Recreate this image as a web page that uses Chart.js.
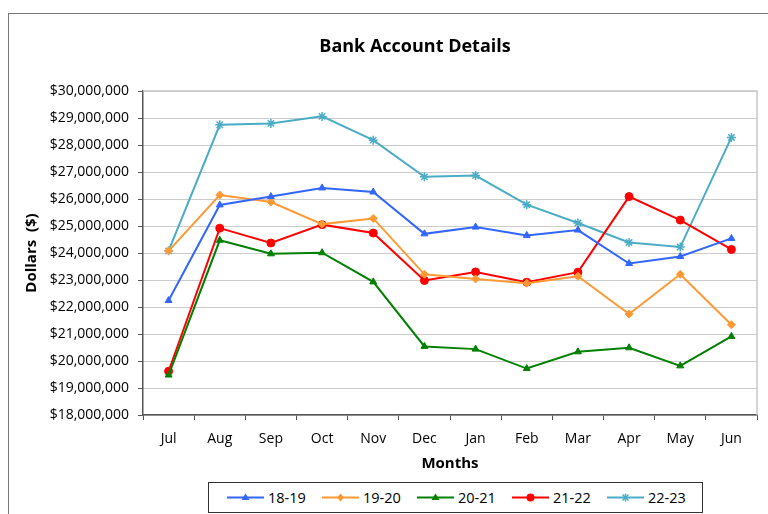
<!DOCTYPE html>
<html>
<head>
<meta charset="utf-8">
<script src="https://cdn.jsdelivr.net/npm/chart.js@4/dist/chart.umd.min.js"></script>
<style>
  html, body { margin: 0; padding: 0; background: #fff; overflow: hidden; }
  #wrap { position: relative; width: 768px; height: 514px; font-family: "Open Sans", "Noto Sans", sans-serif; }
  #frame { position: absolute; left: 8px; top: 13px; width: 800px; height: 600px; border-left: 1.5px solid #777; border-top: 1.5px solid #777; box-sizing: border-box; }
  #c { position: absolute; left: 0; top: 0; }
  #title { position: absolute; left: 215px; width: 400px; top: 32px; text-align: center; font-weight: 700; font-size: 18px; color: #000; line-height: 26px; }
  #legend { position: absolute; left: 208px; top: 482px; width: 495px; height: 31px; border: 1px solid #333; box-sizing: border-box; background: #fff; display: flex; align-items: center; padding-left: 18px; }
  .item { width: 96.3px; display: flex; align-items: center; font-size: 14.5px; color: #000; }
  .item svg { margin-right: 4px; }
</style>
</head>
<body>
<div id="wrap">
  <div id="frame"></div>
  <canvas id="c" width="768" height="514"></canvas>
  <div id="title">Bank Account Details</div>
  <div id="legend"></div>
</div>
<script>
const months = ["Jul","Aug","Sep","Oct","Nov","Dec","Jan","Feb","Mar","Apr","May","Jun"];
const seriesNames = ["18-19","19-20","20-21","21-22","22-23"];
const fy1819 = [22240000,25780000,26090000,26410000,26260000,24710000,24960000,24650000,24850000,23610000,23870000,24540000];
const fy1920 = [24080000,26150000,25890000,25070000,25280000,23210000,23040000,22880000,23140000,21740000,23210000,21340000];
const fy2021 = [19480000,24470000,23970000,24010000,22930000,20540000,20440000,19720000,20340000,20490000,19820000,20910000];
const fy2122 = [19620000,24920000,24370000,25050000,24740000,22980000,23300000,22920000,23290000,26090000,25220000,24130000];
const fy2223 = [24080000,28750000,28800000,29060000,28180000,26820000,26870000,25790000,25110000,24390000,24220000,28280000];
const yMin = 18000000, yMax = 30000000, yStep = 1000000;

const seriesValues = [fy1819, fy1920, fy2021, fy2122, fy2223];
const colors = ["#3366FF","#FF9933","#008000","#FF0000","#4BACC6"];
const markers = ["triangle","rectRot","triangle","circle","star"];
const radii = [4, 4, 4, 4, 4.5];

const font = "'Open Sans', 'Noto Sans', sans-serif";

const plotBorder = {
  id: 'plotBorder',
  beforeDatasetsDraw(chart) {
    const {ctx, chartArea: a} = chart;
    ctx.save();
    ctx.strokeStyle = '#c8c8c8';
    ctx.lineWidth = 1.5;
    ctx.beginPath();
    ctx.moveTo(a.left, a.top);
    ctx.lineTo(a.right, a.top);
    ctx.lineTo(a.right, a.bottom);
    ctx.stroke();
    ctx.restore();
  }
};

new Chart(document.getElementById('c'), {
  type: 'line',
  data: {
    labels: months,
    datasets: seriesValues.map((vals, i) => ({
      label: seriesNames[i],
      data: vals,
      borderColor: colors[i],
      backgroundColor: colors[i],
      pointBackgroundColor: colors[i],
      pointBorderColor: colors[i],
      borderWidth: 2,
      pointStyle: markers[i],
      pointRadius: radii[i],
      pointBorderWidth: markers[i] === 'star' ? 1.5 : 1,
      tension: 0,
      fill: false
    }))
  },
  options: {
    responsive: false,
    animation: false,
    layout: { padding: { top: 91, left: 8, right: 11, bottom: 34 } },
    plugins: {
      legend: { display: false },
      title: { display: false },
      tooltip: { enabled: false }
    },
    scales: {
      x: {
        offset: true,
        afterFit(s) { s.height = 65; },
        grid: { display: true, drawOnChartArea: false, drawTicks: true, tickLength: 5, offset: true, tickColor: '#555', color: '#555' },
        border: { display: true, color: '#555', width: 1.5 },
        ticks: { color: '#000', font: { family: font, size: 14 }, padding: 11, maxRotation: 0 },
        title: { display: true, text: 'Months', color: '#000', font: { family: font, size: 15, weight: 'bold' }, padding: { top: 0, bottom: 7 } }
      },
      y: {
        min: yMin, max: yMax,
        afterFit(s) { s.width = 135; },
        grid: { color: '#999', lineWidth: 1, drawTicks: true, tickLength: 5, tickColor: '#555' },
        border: { display: true, color: '#555', width: 1.5, dash: [1, 1] },
        ticks: {
          stepSize: yStep, color: '#000', padding: 9,
          font: { family: font, size: 14 },
          callback: v => '$' + Number(v).toLocaleString('en-US')
        },
        title: { display: true, text: 'Dollars  ($)', color: '#000', font: { family: font, size: 15, weight: 'bold' }, padding: { top: 15, bottom: 0 } }
      }
    }
  },
  plugins: [plotBorder]
});

// HTML legend
const legend = document.getElementById('legend');
seriesNames.forEach((name, i) => {
  const c = colors[i];
  let m = '';
  if (markers[i] === 'triangle') m = `<polygon points="18.5,2.5 22.5,9 14.5,9" fill="${c}"/>`;
  else if (markers[i] === 'rectRot') m = `<polygon points="18.5,2.5 22,6.5 18.5,10.5 15,6.5" fill="${c}"/>`;
  else if (markers[i] === 'circle') m = `<circle cx="18.5" cy="6.5" r="4" fill="${c}"/>`;
  else m = `<g stroke="${c}" stroke-width="1.5"><line x1="15.5" y1="3.5" x2="21.5" y2="9.5"/><line x1="21.5" y1="3.5" x2="15.5" y2="9.5"/><line x1="18.5" y1="2.5" x2="18.5" y2="10.5"/></g>`;
  const div = document.createElement('div');
  div.className = 'item';
  div.innerHTML = `<svg width="37" height="13"><line x1="0" y1="6.5" x2="37" y2="6.5" stroke="${c}" stroke-width="2"/>${m}</svg><span>${name}</span>`;
  legend.appendChild(div);
});
</script>
</body>
</html>
